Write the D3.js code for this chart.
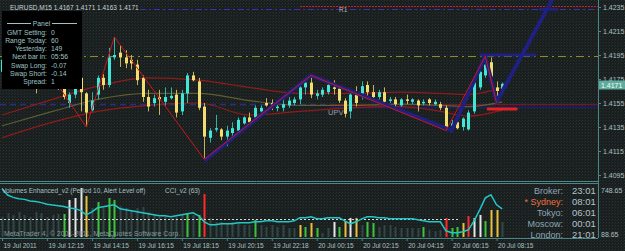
<!DOCTYPE html>
<html lang="en">
<head>
<meta charset="utf-8">
<title>EURUSD,M15</title>
<script src="https://cdn.jsdelivr.net/npm/d3@7"></script>
<style>
  body { margin: 0; background: #111; }
  svg { display: block; font-family: "Liberation Sans", Arial, sans-serif; }
</style>
</head>
<body>
<svg id="chart" width="625" height="251"></svg>
<script>
// M15 bars, 19 Jul 10:15 .. 20 Jul 08:30
var open = [
  1.4181, 1.4191, 1.4199, 1.4194, 1.4204, 1.4206, 1.4191, 1.4176, 1.4186, 1.4174,
  1.4181, 1.4168, 1.4155, 1.4162, 1.4176, 1.4163, 1.4149, 1.4162, 1.4176, 1.4170,
  1.4193, 1.4197, 1.4193, 1.4191, 1.4187, 1.4176, 1.4160, 1.4155, 1.4160, 1.4156,
  1.4159, 1.4162, 1.4148, 1.4163, 1.4178, 1.4173, 1.4152, 1.4126, 1.4133, 1.4133,
  1.4127, 1.4130, 1.4132, 1.4138, 1.4143, 1.4143, 1.4148, 1.4155, 1.4155, 1.4151,
  1.4151, 1.4153, 1.4155, 1.4158, 1.4168, 1.4172, 1.4161, 1.4162, 1.4164, 1.4168,
  1.4167, 1.4157, 1.4148, 1.4162, 1.4163, 1.4170, 1.4164, 1.4160, 1.4164, 1.4157,
  1.4158, 1.4153, 1.4158, 1.4156, 1.4157, 1.4155, 1.4158, 1.4154, 1.4154, 1.4151,
  1.4136, 1.4139, 1.4135, 1.4133, 1.4148, 1.4168, 1.4178, 1.4189, 1.4168, 1.4165];
var high = [
  1.4195, 1.4203, 1.4203, 1.4208, 1.4211, 1.4208, 1.4194, 1.4189, 1.4188, 1.4186,
  1.4184, 1.4171, 1.4164, 1.4177, 1.4179, 1.4164, 1.4164, 1.4178, 1.4179, 1.4201,
  1.4210, 1.4203, 1.4199, 1.4195, 1.4191, 1.4178, 1.4166, 1.4162, 1.4166, 1.4168,
  1.4168, 1.4166, 1.4166, 1.4180, 1.4181, 1.4176, 1.4155, 1.4134, 1.4145, 1.4134,
  1.4136, 1.4139, 1.4143, 1.4144, 1.4147, 1.4153, 1.4153, 1.4159, 1.4158, 1.4156,
  1.4158, 1.4160, 1.4160, 1.4170, 1.4176, 1.4178, 1.4166, 1.4168, 1.4174, 1.4174,
  1.4170, 1.4159, 1.4163, 1.4169, 1.4173, 1.4173, 1.4170, 1.4166, 1.4168, 1.4160,
  1.4160, 1.4159, 1.4162, 1.4159, 1.4158, 1.4158, 1.4159, 1.4158, 1.4156, 1.4153,
  1.4141, 1.4142, 1.4143, 1.4149, 1.4174, 1.4183, 1.4194, 1.4193, 1.4173, 1.4172];
var low = [
  1.4178, 1.4188, 1.4189, 1.4193, 1.4202, 1.4188, 1.4163, 1.4171, 1.4171, 1.4170,
  1.4166, 1.4158, 1.4151, 1.4159, 1.4148, 1.4135, 1.4148, 1.4158, 1.4166, 1.4168,
  1.4191, 1.4185, 1.4184, 1.4183, 1.4170, 1.4156, 1.4148, 1.4152, 1.4145, 1.4153,
  1.4158, 1.4143, 1.4145, 1.4155, 1.4173, 1.4149, 1.4108, 1.4122, 1.4131, 1.4124,
  1.4119, 1.4124, 1.4129, 1.4137, 1.4137, 1.4141, 1.4147, 1.4152, 1.4149, 1.4148,
  1.4148, 1.4151, 1.4153, 1.4154, 1.4162, 1.4159, 1.4158, 1.4160, 1.4162, 1.4162,
  1.4155, 1.4143, 1.4142, 1.4152, 1.4158, 1.4160, 1.4158, 1.4158, 1.4155, 1.4155,
  1.4152, 1.4152, 1.4154, 1.4154, 1.4148, 1.4153, 1.4153, 1.4153, 1.4149, 1.4132,
  1.4133, 1.4133, 1.4132, 1.4132, 1.4146, 1.4166, 1.4176, 1.4174, 1.4155, 1.4162];
var close = [
  1.4191, 1.4199, 1.4193, 1.4206, 1.4209, 1.4191, 1.4174, 1.4186, 1.4174, 1.4183,
  1.4169, 1.4160, 1.4162, 1.4174, 1.4164, 1.4147, 1.4157, 1.4176, 1.4170, 1.4193,
  1.4195, 1.4193, 1.4188, 1.4188, 1.4174, 1.4160, 1.4152, 1.4159, 1.4158, 1.4160,
  1.4161, 1.4147, 1.4163, 1.4178, 1.4174, 1.4151, 1.4127, 1.4132, 1.4134, 1.4127,
  1.4132, 1.4134, 1.4141, 1.4143, 1.4139, 1.4151, 1.4151, 1.4153, 1.4153, 1.4152,
  1.4154, 1.4157, 1.4158, 1.4168, 1.4172, 1.4162, 1.4163, 1.4166, 1.4170, 1.4167,
  1.4157, 1.4146, 1.4162, 1.4155, 1.4169, 1.4164, 1.4160, 1.4164, 1.4156, 1.4158,
  1.4154, 1.4158, 1.4157, 1.4158, 1.4153, 1.4156, 1.4155, 1.4156, 1.4151, 1.4134,
  1.4138, 1.4134, 1.4142, 1.4147, 1.4172, 1.4181, 1.4187, 1.4177, 1.4165, 1.4171];

// volumes enhanced: tick volume and bar state
var volume = [
  306, 367, 337, 383, 337, 306, 383, 367, 306, 337,
  352, 352, 566, 597, 750, 627, 444, 536, 459, 597,
  566, 474, 444, 413, 444, 459, 383, 337, 306, 306,
  291, 306, 337, 367, 337, 337, 658, 291, 230, 230,
  214, 230, 214, 184, 184, 260, 184, 153, 184, 153,
  184, 138, 138, 184, 153, 214, 138, 61, 138, 230,
  153, 245, 291, 291, 184, 230, 214, 153, 184, 184,
  153, 138, 138, 138, 138, 153, 107, 92, 107, 291,
  138, 153, 214, 321, 291, 337, 245, 413, 413, 230];
var volKind = (
  "nnnnnnnnnn" + "ngwwwyngng" + "gnnnnnnnnn" + "nnngngrnnn" + "nnnnngnnnn" +
  "nnnygygnnw" + "gywynggnnn" + "nnnnngnnnr" + "ggyrwwgyyn").split("");
var cci = [
  330, 262, 236, 222, 214, 196, 190, 178, 160, 152,
  143, 135, 118, 112, 90, 44, 77, 121, 132, 143,
  154, 110, 99, 88, 77, 66, 55, 44, 33, 33,
  22, 33, 44, 55, 66, 33, -33, -66, -66, -55,
  -55, -55, -44, -44, -44, -33, -33, -22, -22, -33,
  -33, -33, -22, 11, 11, 22, 0, 0, 11, 11,
  11, -22, -55, -33, 0, 22, 22, 11, 11, 0,
  0, 0, 0, 0, -11, -22, -33, -33, -33, -132,
  -154, -154, -143, -121, -22, 99, 231, 264, 154, 110];

// envelope / moving average read at sample bars
var maBars = [0, 9, 17, 26, 35, 44, 53, 62, 71, 78, 83, 89];
var maUpper = [1.4145, 1.4158, 1.4169, 1.4176, 1.4174, 1.4168, 1.4163, 1.4163, 1.4164, 1.4163, 1.4162, 1.4168];
var maMid = [1.4136, 1.4148, 1.4158, 1.4163, 1.4163, 1.4157, 1.4153, 1.4153, 1.4154, 1.4153, 1.4152, 1.4156];
var maLower = [1.4126, 1.4139, 1.4148, 1.4153, 1.4155, 1.4145, 1.4148, 1.4151, 1.4152, 1.4148, 1.4144, 1.4149];

// zigzag and drawn pattern
var zzBars = [4, 15, 20, 36, 55, 79, 86, 88];
var zzPrice = [1.4211, 1.4135, 1.4210, 1.4108, 1.4178, 1.4132, 1.4194, 1.4155];
var patBars = [36, 55, 80, 86, 88, 98];
var patPrice = [1.4107, 1.4178, 1.4132, 1.4194, 1.4156, 1.4242];
var targetFrom = [85, 95.5], targetTo = [95, 99], targetPrice = [1.4195, 1.4233];
var stopFrom = 86.5, stopTo = 91.5, stopPrice = 1.4150;

// horizontal levels
var r1Price = 1.4236, pivotPrice = 1.4233, olivePrice = 1.4194, bluePrice = 1.4154, upvPrice = 1.4152;
var lastPrice = 1.4171;

var priceTicks = [1.4235, 1.4215, 1.4195, 1.4175, 1.4155, 1.4135, 1.4115, 1.4095];
var timeBars = [0, 8, 16, 24, 32, 40, 48, 56, 64, 72, 80, 88];
var timeLabels = ["19 Jul 2011", "19 Jul 12:15", "19 Jul 14:15", "19 Jul 16:15", "19 Jul 18:15",
  "19 Jul 20:15", "19 Jul 22:18", "20 Jul 00:15", "20 Jul 02:15", "20 Jul 04:15",
  "20 Jul 06:15", "20 Jul 08:15"];

var panelLabels = ["GMT Setting:", "Range Today:", "Yesterday:", "Next bar in:", "Swap Long:", "Swap Short:", "Spread:"];
var panelValues = ["0", "60", "149", "05:56", "-0.07", "-0.14", "1"];
var clockCities = ["Broker:", "* Sydney:", "Tokyo:", "Moscow:", "London:"];
var clockTimes = ["23:01", "08:01", "06:01", "00:01", "21:01"];

var border = "#4b8584", axisText = "#a9c0c0";

var svg = d3.select("#chart");
var defs = svg.append("defs");
var pat = defs.append("pattern").attr("id", "noise")
    .attr("width", 3).attr("height", 3).attr("patternUnits", "userSpaceOnUse");
pat.append("rect").attr("width", 3).attr("height", 3).attr("fill", "#191e1e");
pat.append("rect").attr("width", 1).attr("height", 1).attr("fill", "#2a3131");
pat.append("rect").attr("x", 2).attr("y", 1).attr("width", 1).attr("height", 1).attr("fill", "#232929");
defs.append("clipPath").attr("id", "mainClip")
  .append("rect").attr("x", 0).attr("y", 0).attr("width", 598).attr("height", 181);

svg.append("rect").attr("width", 625).attr("height", 251).attr("fill", "url(#noise)");

// scales
var x = d3.scaleLinear().domain([0, 89]).range([2, 2 + 89 * 5.62]);
var y = d3.scaleLinear().domain([1.4095, 1.4235]).range([175, 7]);
var yv = d3.scaleLinear().domain([0, 750]).range([237, 188]);
var yc = d3.scaleLinear().domain([-200, 350]).range([237, 187]);

var main = svg.append("g").attr("clip-path", "url(#mainClip)");

function hline(price, x0, color, width, dash) {
  main.append("line")
    .attr("x1", x0).attr("x2", 598)
    .attr("y1", Math.round(y(price)) + 0.5).attr("y2", Math.round(y(price)) + 0.5)
    .attr("stroke", color).attr("stroke-width", width)
    .attr("stroke-dasharray", dash);
}
hline(r1Price, 300, "#d42020", 1, "2,1");
hline(pivotPrice, 140, "#3434b4", 1, "6,3,2,3");
hline(olivePrice, 0, "#8c8c22", 1, "8,4,2,4");
hline(bluePrice, 0, "#2c2c86", 1.5, "6,4");
hline(upvPrice, 330, "#1c1c72", 1.5, null);
hline(upvPrice + 0.0002, 330, "#7a1616", 1, null);

// envelope lines
var maLine = d3.line().x(function (d) { return x(d[0]); }).y(function (d) { return y(d[1]); })
    .curve(d3.curveMonotoneX);
[[maUpper, "#8e1c1c"], [maMid, "#5e5e30"], [maLower, "#8e1c1c"]].forEach(function (s) {
  main.append("path")
    .attr("d", maLine(maBars.map(function (b, k) { return [b, s[0][k]]; })))
    .attr("fill", "none").attr("stroke", s[1]).attr("stroke-width", 1.2);
});

// candles
var idx = d3.range(open.length);
main.selectAll(".wick").data(idx).enter().append("line")
  .attr("class", "wick")
  .attr("x1", function (i) { return Math.round(x(i)) + 0.5; })
  .attr("x2", function (i) { return Math.round(x(i)) + 0.5; })
  .attr("y1", function (i) { return y(high[i]); })
  .attr("y2", function (i) { return y(low[i]); })
  .attr("stroke", function (i) { return close[i] >= open[i] ? "#2fb3aa" : "#c9b252"; });
main.selectAll(".body").data(idx).enter().append("rect")
  .attr("class", "body")
  .attr("x", function (i) { return Math.round(x(i)) - 1; })
  .attr("width", 3)
  .attr("y", function (i) { return y(Math.max(open[i], close[i])); })
  .attr("height", function (i) { return Math.max(1.5, Math.abs(y(open[i]) - y(close[i]))); })
  .attr("fill", function (i) { return close[i] >= open[i] ? "#40e6d6" : "#f2de70"; });

// pattern lines
var ptLine = d3.line().x(function (d) { return x(d[0]); }).y(function (d) { return y(d[1]); });
main.append("path")
  .attr("d", ptLine(patBars.map(function (b, k) { return [b, patPrice[k]]; })))
  .attr("fill", "none").attr("stroke", "#202080").attr("stroke-width", 4)
  .attr("stroke-linejoin", "round");
targetPrice.forEach(function (p, k) {
  main.append("line")
    .attr("x1", x(targetFrom[k])).attr("x2", x(targetTo[k]))
    .attr("y1", y(p)).attr("y2", y(p))
    .attr("stroke", "#202080").attr("stroke-width", 3);
});
main.append("path")
  .attr("d", ptLine(zzBars.map(function (b, k) { return [b, zzPrice[k]]; })))
  .attr("fill", "none").attr("stroke", "#c81818").attr("stroke-width", 1);
main.append("line")
  .attr("x1", x(stopFrom)).attr("x2", x(stopTo))
  .attr("y1", y(stopPrice)).attr("y2", y(stopPrice))
  .attr("stroke", "#e82020").attr("stroke-width", 3).attr("stroke-linecap", "round");

main.append("text").attr("x", 339).attr("y", 12).attr("font-size", 6.5)
  .attr("fill", "#b0b0b0").text("R1");
main.append("text").attr("x", 328).attr("y", 115).attr("font-size", 7.5)
  .attr("fill", "#9a9aaa").text("UPV");

// title
svg.append("text").attr("x", 10).attr("y", 10).attr("font-size", 6.5)
  .attr("fill", "#c8d8d8").text("EURUSD,M15 1.4167 1.4171 1.4163 1.4171");

// info panel
svg.append("rect").attr("x", 2).attr("y", 11).attr("width", 80).attr("height", 78).attr("fill", "#000");
var panel = svg.append("g").attr("font-size", 6.8).attr("fill", "#9fc4c4");
panel.append("text").attr("x", 41.5).attr("y", 25.5).attr("text-anchor", "middle").text("Panel");
panel.append("line").attr("x1", 7).attr("x2", 31).attr("y1", 23.5).attr("y2", 23.5).attr("stroke", "#9fc4c4");
panel.append("line").attr("x1", 52).attr("x2", 77).attr("y1", 23.5).attr("y2", 23.5).attr("stroke", "#9fc4c4");
panelLabels.forEach(function (t, k) {
  var by = 34.5 + k * 8.3;
  panel.append("text").attr("x", 47).attr("y", by).attr("text-anchor", "end").text(t);
  panel.append("text").attr("x", 51).attr("y", by).text(panelValues[k]);
});

// price axis
var pa = svg.append("g").attr("transform", "translate(598,0)")
  .call(d3.axisRight(y).tickValues(priceTicks).tickFormat(d3.format(".4f")).tickSize(3).tickPadding(2));
pa.select(".domain").remove();
pa.selectAll("line").attr("stroke", border);
pa.selectAll("text").attr("fill", axisText).attr("font-size", 7).attr("font-family", "Liberation Sans, Arial");
svg.append("rect").attr("x", 599).attr("y", 80.5).attr("width", 26).attr("height", 9).attr("fill", "#5fab9d");
svg.append("text").attr("x", 601).attr("y", 87.5).attr("font-size", 7).attr("fill", "#f0fff8").text(d3.format(".4f")(lastPrice));

// frames
svg.append("line").attr("x1", 598.5).attr("x2", 598.5).attr("y1", 0).attr("y2", 238).attr("stroke", border);
svg.append("line").attr("x1", 0).attr("x2", 598).attr("y1", 181.5).attr("y2", 181.5).attr("stroke", border);
svg.append("line").attr("x1", 0).attr("x2", 598).attr("y1", 183.5).attr("y2", 183.5).attr("stroke", border);
svg.append("line").attr("x1", 0).attr("x2", 598).attr("y1", 238.5).attr("y2", 238.5).attr("stroke", border);

// indicator window
var ind = svg.append("g");
var volColor = { n: "#304847", g: "#3cc43c", w: "#e6e6e6", y: "#e8c03c", r: "#ff2a2a" };
ind.selectAll(".vol").data(idx).enter().append("rect")
  .attr("class", "vol")
  .attr("x", function (i) { return Math.round(x(i)) - 0.5; })
  .attr("width", 2)
  .attr("y", function (i) { return yv(volume[i]); })
  .attr("height", function (i) { return yv(0) - yv(volume[i]); })
  .attr("fill", function (i) { return volColor[volKind[i]]; });
ind.append("line").attr("x1", 0).attr("x2", 458).attr("y1", Math.round(yc(0)) + 0.5).attr("y2", Math.round(yc(0)) + 0.5)
  .attr("stroke", "#d8d8d8").attr("stroke-dasharray", "2,2");
ind.append("path")
  .attr("d", d3.line().x(function (d, i) { return x(i); }).y(function (d) { return yc(d); })(cci))
  .attr("fill", "none").attr("stroke", "#22c6c6").attr("stroke-width", 1.5);
ind.append("text").attr("x", 2).attr("y", 193).attr("font-size", 6.5).attr("fill", "#a8c0c0")
  .text("Volumes Enhanced_v2  (Period 10, Alert Level off)");
ind.append("text").attr("x", 165).attr("y", 193).attr("font-size", 6.5).attr("fill", "#a8c0c0")
  .text("CCI_v2  (63)");
ind.append("text").attr("x", 4).attr("y", 235.5).attr("font-size", 7).attr("fill", "#7f9898")
  .text("MetaTrader 4, \u00a9 2001-2011, MetaQuotes Software Corp.");
ind.append("text").attr("x", 601).attr("y", 192.5).attr("font-size", 7).attr("fill", axisText).text("748.65");
ind.append("text").attr("x", 601).attr("y", 236.5).attr("font-size", 7).attr("fill", axisText).text("88.65");

// clocks
clockCities.forEach(function (c, k) {
  var by = 194 + k * 10.9;
  ind.append("text").attr("x", 563).attr("y", by).attr("text-anchor", "end").attr("font-size", 9)
    .attr("fill", k === 1 ? "#f07040" : "#8ea6b6").text(c);
  ind.append("text").attr("x", 572).attr("y", by).attr("font-size", 9.5)
    .attr("fill", "#b4c4cc").text(clockTimes[k]);
});

// time axis
var ta = svg.append("g").attr("transform", "translate(0,238)")
  .call(d3.axisBottom(x).tickValues(timeBars).tickSize(3)
    .tickFormat(function (d, k) { return timeLabels[k]; }));
ta.select(".domain").remove();
ta.selectAll("line").attr("stroke", border);
ta.selectAll("text").attr("text-anchor", "start").attr("x", 1).attr("y", 5)
  .attr("fill", axisText).attr("font-size", 6.5).attr("font-family", "Liberation Sans, Arial");
</script>
</body>
</html>
